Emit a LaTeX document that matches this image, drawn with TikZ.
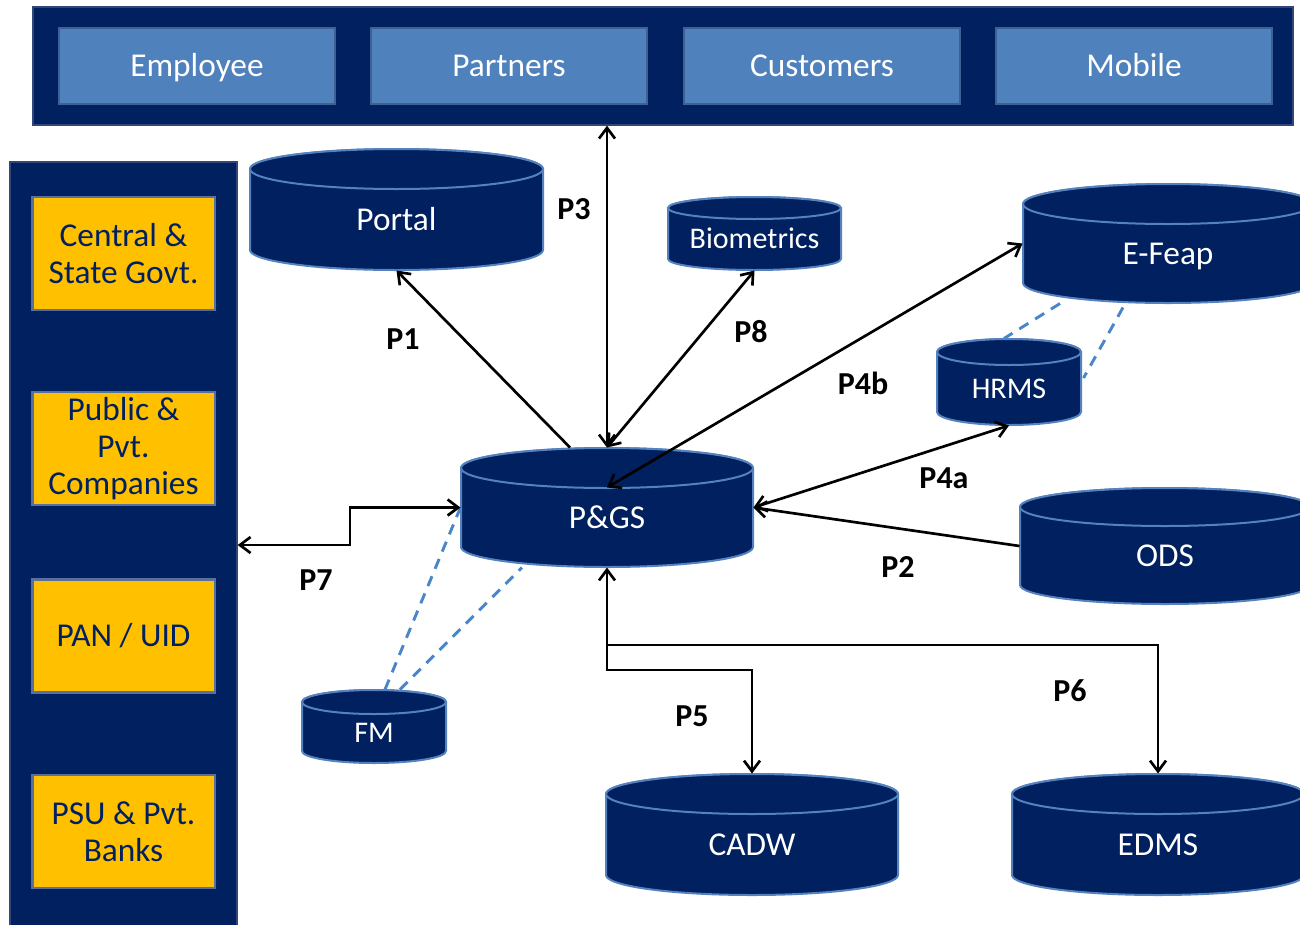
\documentclass[tikz,border=0pt]{standalone}
\usepackage{fontspec}
\setmainfont{Carlito}
\usetikzlibrary{arrows.meta,calc}

\definecolor{navy}{RGB}{0,32,96}
\definecolor{paneblue}{RGB}{79,129,189}
\definecolor{paneedge}{RGB}{62,96,146}
\definecolor{gold}{RGB}{255,192,0}
\definecolor{goldedge}{RGB}{88,112,158}
\definecolor{canedge}{RGB}{84,130,190}
\definecolor{dashblue}{RGB}{74,134,200}

\tikzset{every picture/.style={line width=0.75pt}}
\tikzset{
  bar/.style={fill=navy, draw={rgb,255:red,50;green,70;blue,120}, line width=1pt, inner sep=0pt},
  pane/.style={fill=paneblue, draw=paneedge, line width=1.5pt, text=white, inner sep=0pt,
    minimum width=207pt, minimum height=57pt, text height=16pt, text depth=0pt,
    font=\fontsize{25}{30}\selectfont},
  org/.style={fill=gold, draw=goldedge, line width=2pt, text=navy, align=center, inner sep=0pt,
    minimum width=137pt, minimum height=84.75pt, font=\fontsize{25}{27.5}\selectfont},
  canbody/.style={fill=navy, draw=canedge, line width=1.5pt},
  canbox/.style={inner sep=0pt},
  bigcan/.style={text=white, inner sep=0pt, text height=16pt, text depth=0pt,
    font=\fontsize{25}{30}\selectfont},
  smallcan/.style={text=white, inner sep=0pt, text height=14.5pt, text depth=0pt,
    font=\fontsize{22.5}{27}\selectfont},
  link/.style={line width=2pt, black},
  tie/.style={dashblue, line width=2.2pt, dash pattern=on 8pt off 6pt},
  plabel/.style={inner sep=0pt, font=\fontsize{24}{28}\selectfont\bfseries}
}

% can: name, centre x, top y, width, height, y radius, text style, text
\newcommand{\can}[8]{%
  \draw[canbody] (#2-#4/2,#3+#6) -- (#2-#4/2,#3+#5-#6)
    arc[start angle=180, end angle=0, x radius=#4/2, y radius=#6]
    -- (#2+#4/2,#3+#6)
    arc[start angle=0, end angle=-180, x radius=#4/2, y radius=#6] -- cycle;
  \draw[canbody] (#2,#3+#6) ellipse [x radius=#4/2, y radius=#6];
  \node[canbox, minimum width=#4*0.75pt, minimum height=#5*0.75pt] (#1) at (#2,#3+#5/2) {};
  \node[#7] (#1-txt) at (#2,#3+#5/2+#6/2) {#8};
}

\begin{document}
\begin{tikzpicture}[x=0.75pt,y=0.75pt,yscale=-1,xscale=1,>={Straight Barb[length=8pt,width=12pt]}]
\useasboundingbox (0,0) rectangle (1300,925);
\clip (0,0) rectangle (1300,925);

%Shape: Rectangle [users bar]
\node[bar, minimum width=945pt, minimum height=88.5pt] (users) at (663,66) {};
\node[pane] (emp) at (197,66) {Employee};
\node[pane] (part) at (509,66) {Partners};
\node[pane] (cust) at (822,66) {Customers};
\node[pane] (mob) at (1134,66) {Mobile};

%Shape: Rectangle [organisations bar]
\node[bar, minimum width=170.25pt, minimum height=579.75pt] (orgs) at (123.5,548.5) {};
\node[org] (govt) at (123.5,253.5) {Central \&\\State Govt.};
\node[org] (comp) at (123.5,448.5) {Public \&\\Pvt.\\Companies};
\node[org] (uid) at (123.5,636) {PAN / UID};
\node[org] (bank) at (123.5,831.5) {PSU \& Pvt.\\Banks};

%Shape: Can
\can{portal}{396.5}{149}{293}{121}{20}{bigcan}{Portal}
\can{bio}{754.5}{197}{173}{73}{11}{smallcan}{Biometrics}
\can{efeap}{1168}{184}{290}{119}{20}{bigcan}{E-Feap}
\can{hrms}{1009}{339}{144}{86}{13}{smallcan}{HRMS}
\can{pgs}{607}{448}{292}{119}{20}{bigcan}{P\&GS}
\can{ods}{1165}{488}{290}{116}{19}{bigcan}{ODS}
\can{fm}{374}{690}{144}{73}{12}{smallcan}{FM}
\can{cadw}{752}{774}{292}{121}{20}{bigcan}{CADW}
\can{edms}{1158}{774}{292}{121}{20}{bigcan}{EDMS}

%Dashed Lines
\draw[tie] ($(fm.north)+(11,0)$) -- (pgs.west);
\draw[tie] ($(fm.north)+(26,0)$) -- ($(pgs.south)+(-85,0)$);
\draw[tie] ($(efeap.south)+(-108,0)$) -- ($(hrms.north)+(-5,0)$);
\draw[tie] ($(efeap.south)+(-45,4)$) -- ($(hrms.east)+(2,-4)$);

%Straight Lines
\draw[link,->] ($(pgs.north)+(-37,0)$) -- (portal.south);
\draw[link,<->] (pgs.north |- users.south) -- (pgs.north);
\draw[link,<->] (pgs.north) -- (bio.south);
\draw[link,<->] ($(pgs.north)+(0,40)$) -- (efeap.west);
\draw[link,<->] (pgs.east) -- (hrms.south);
\draw[link,->] (ods.west) -- (pgs.east);
\coordinate (p7a) at (350,545);
\draw[link,<->] (orgs.east |- p7a) -- (p7a) |- (pgs.west);
\coordinate (p5a) at (607,670);
\coordinate (p6a) at (607,645);
\draw[link,<->] (pgs.south) -- (p5a) -| (cadw.north);
\draw[link,->] (p6a) -| (edms.north);

% Text Node
\node[plabel] (p1) at (403,339) {P1};
\node[plabel] (p3) at (574,209) {P3};
\node[plabel] (p8) at (751,332) {P8};
\node[plabel] (p4b) at (863,383) {P4b};
\node[plabel] (p4a) at (944,478) {P4a};
\node[plabel] (p2) at (898,567) {P2};
\node[plabel] (p7) at (316,580) {P7};
\node[plabel] (p5) at (692,716) {P5};
\node[plabel] (p6) at (1070,691) {P6};

\end{tikzpicture}
\end{document}
